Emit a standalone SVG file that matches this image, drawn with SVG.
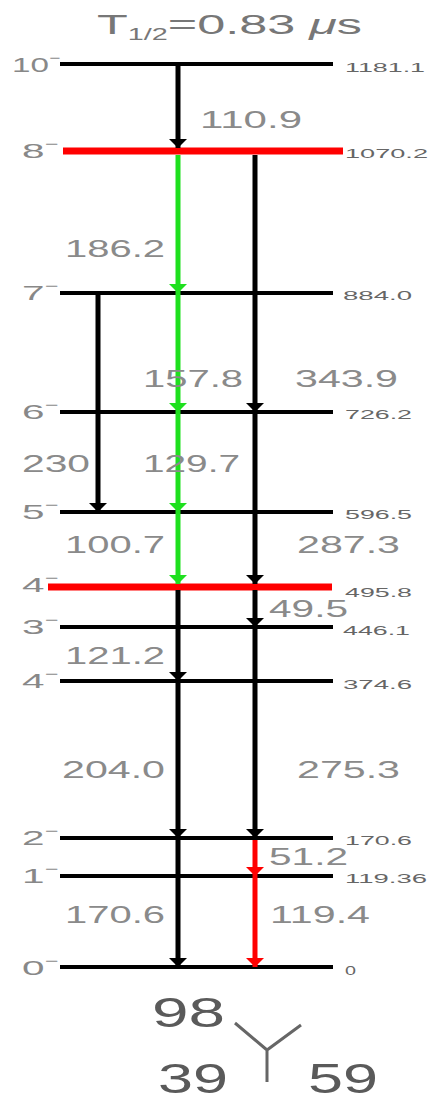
<svg xmlns="http://www.w3.org/2000/svg" width="431" height="1101" viewBox="0 0 431 1101">
<style>
.lv{stroke:#000;stroke-width:4;fill:none}
.lvr{stroke:#f00;stroke-width:7;fill:none}
.jp{font-family:"Liberation Sans",Arial,sans-serif;font-size:21px;fill:#888}
.sup{font-size:12px}
.en{font-family:"Liberation Sans",Arial,sans-serif;font-size:13px;fill:#666}
.tr{font-family:"Liberation Sans",Arial,sans-serif;font-size:24px;fill:#8a8a8a}
.tk{stroke:#000;stroke-width:5;fill:none}
.tg{stroke:#1ee01e;stroke-width:5;fill:none}
.trd{stroke:#f00;stroke-width:5;fill:none}
.big{font-family:"Liberation Sans",Arial,sans-serif;font-size:42px;fill:#5a5a5a}
</style>
<defs>
<marker id="ak" markerUnits="userSpaceOnUse" markerWidth="10" markerHeight="18" refX="9" refY="9" orient="auto"><path d="M0,0 L9,9 L0,18 z" fill="#000"/></marker>
<marker id="ag" markerUnits="userSpaceOnUse" markerWidth="10" markerHeight="18" refX="9" refY="9" orient="auto"><path d="M0,0 L9,9 L0,18 z" fill="#1ee01e"/></marker>
<marker id="ar" markerUnits="userSpaceOnUse" markerWidth="10" markerHeight="18" refX="9" refY="9" orient="auto"><path d="M0,0 L9,9 L0,18 z" fill="#f00"/></marker>
</defs>
<rect width="431" height="1101" fill="#fff"/>

<g id="title">
<text x="97" y="34" font-family="Liberation Sans,Arial,sans-serif" font-size="28" fill="#777" textLength="265" lengthAdjust="spacingAndGlyphs">T<tspan font-size="16" dy="6">1/2</tspan><tspan dy="-6">=0.83 </tspan><tspan font-style="italic">μ</tspan>s</text>
</g>

<g id="levels">
<g id="L1181"><line class="lv" x1="60" y1="64" x2="333" y2="64"/><text class="jp" x="12" y="72" textLength="48" lengthAdjust="spacingAndGlyphs">10<tspan class="sup" dy="-10">−</tspan></text><text class="en" x="345" y="72" textLength="80" lengthAdjust="spacingAndGlyphs">1181.1</text></g>
<g id="L1070"><line class="lvr" x1="63" y1="151" x2="343" y2="151"/><text class="jp" x="22" y="158" textLength="36" lengthAdjust="spacingAndGlyphs">8<tspan class="sup" dy="-10">−</tspan></text><text class="en" x="345" y="158" textLength="83" lengthAdjust="spacingAndGlyphs">1070.2</text></g>
<g id="L884"><line class="lv" x1="60" y1="293" x2="333" y2="293"/><text class="jp" x="22" y="300" textLength="36" lengthAdjust="spacingAndGlyphs">7<tspan class="sup" dy="-10">−</tspan></text><text class="en" x="343" y="300" textLength="69" lengthAdjust="spacingAndGlyphs">884.0</text></g>
<g id="L726"><line class="lv" x1="60" y1="412" x2="333" y2="412"/><text class="jp" x="22" y="419" textLength="36" lengthAdjust="spacingAndGlyphs">6<tspan class="sup" dy="-10">−</tspan></text><text class="en" x="345" y="419" textLength="67" lengthAdjust="spacingAndGlyphs">726.2</text></g>
<g id="L596"><line class="lv" x1="60" y1="512" x2="333" y2="512"/><text class="jp" x="22" y="519" textLength="36" lengthAdjust="spacingAndGlyphs">5<tspan class="sup" dy="-10">−</tspan></text><text class="en" x="345" y="519" textLength="67" lengthAdjust="spacingAndGlyphs">596.5</text></g>
<g id="L495"><line class="lvr" x1="48" y1="587" x2="332" y2="587"/><text class="jp" x="22" y="592" textLength="36" lengthAdjust="spacingAndGlyphs">4<tspan class="sup" dy="-10">−</tspan></text><text class="en" x="345" y="597" textLength="67" lengthAdjust="spacingAndGlyphs">495.8</text></g>
<g id="L446"><line class="lv" x1="60" y1="627" x2="333" y2="627"/><text class="jp" x="22" y="634" textLength="36" lengthAdjust="spacingAndGlyphs">3<tspan class="sup" dy="-10">−</tspan></text><text class="en" x="343" y="635" textLength="67" lengthAdjust="spacingAndGlyphs">446.1</text></g>
<g id="L374"><line class="lv" x1="60" y1="681" x2="333" y2="681"/><text class="jp" x="22" y="688" textLength="36" lengthAdjust="spacingAndGlyphs">4<tspan class="sup" dy="-10">−</tspan></text><text class="en" x="343" y="689" textLength="69" lengthAdjust="spacingAndGlyphs">374.6</text></g>
<g id="L170"><line class="lv" x1="60" y1="838" x2="333" y2="838"/><text class="jp" x="22" y="845" textLength="36" lengthAdjust="spacingAndGlyphs">2<tspan class="sup" dy="-10">−</tspan></text><text class="en" x="345" y="845" textLength="67" lengthAdjust="spacingAndGlyphs">170.6</text></g>
<g id="L119"><line class="lv" x1="60" y1="876" x2="333" y2="876"/><text class="jp" x="22" y="883" textLength="36" lengthAdjust="spacingAndGlyphs">1<tspan class="sup" dy="-10">−</tspan></text><text class="en" x="345" y="883" textLength="82" lengthAdjust="spacingAndGlyphs">119.36</text></g>
<g id="L0"><line class="lv" x1="60" y1="967" x2="333" y2="967"/><text class="jp" x="22" y="975" textLength="36" lengthAdjust="spacingAndGlyphs">0<tspan class="sup" dy="-10">−</tspan></text><text class="en" x="345" y="975" textLength="11" lengthAdjust="spacingAndGlyphs">0</text></g>
</g>

<g id="connectors">
<line class="tk" x1="178" y1="66" x2="178" y2="148" marker-end="url(#ak)"/>
<line class="tg" x1="178" y1="155" x2="178" y2="293" marker-end="url(#ag)"/>
<line class="tg" x1="178" y1="293" x2="178" y2="412" marker-end="url(#ag)"/>
<line class="tg" x1="178" y1="412" x2="178" y2="512" marker-end="url(#ag)"/>
<line class="tg" x1="178" y1="512" x2="178" y2="584" marker-end="url(#ag)"/>
<line class="tk" x1="178" y1="590" x2="178" y2="681" marker-end="url(#ak)"/>
<line class="tk" x1="178" y1="681" x2="178" y2="838" marker-end="url(#ak)"/>
<line class="tk" x1="178" y1="838" x2="178" y2="967" marker-end="url(#ak)"/>
<line class="tk" x1="255" y1="155" x2="255" y2="412" marker-end="url(#ak)"/>
<line class="tk" x1="255" y1="412" x2="255" y2="584" marker-end="url(#ak)"/>
<line class="tk" x1="255" y1="590" x2="255" y2="627" marker-end="url(#ak)"/>
<line class="tk" x1="255" y1="627" x2="255" y2="838" marker-end="url(#ak)"/>
<line class="trd" x1="255" y1="840" x2="255" y2="876" marker-end="url(#ar)"/>
<line class="trd" x1="255" y1="876" x2="255" y2="967" marker-end="url(#ar)"/>
<line class="tk" x1="98" y1="293" x2="98" y2="512" marker-end="url(#ak)"/>
</g>

<g id="transition-labels">
<text class="tr" x="200" y="128" textLength="102" lengthAdjust="spacingAndGlyphs">110.9</text>
<text class="tr" x="65" y="257" textLength="100" lengthAdjust="spacingAndGlyphs">186.2</text>
<text class="tr" x="143" y="387" textLength="100" lengthAdjust="spacingAndGlyphs">157.8</text>
<text class="tr" x="295" y="387" textLength="103" lengthAdjust="spacingAndGlyphs">343.9</text>
<text class="tr" x="22" y="472" textLength="68" lengthAdjust="spacingAndGlyphs">230</text>
<text class="tr" x="143" y="472" textLength="97" lengthAdjust="spacingAndGlyphs">129.7</text>
<text class="tr" x="65" y="553" textLength="100" lengthAdjust="spacingAndGlyphs">100.7</text>
<text class="tr" x="297" y="553" textLength="103" lengthAdjust="spacingAndGlyphs">287.3</text>
<text class="tr" x="269" y="617" textLength="79" lengthAdjust="spacingAndGlyphs">49.5</text>
<text class="tr" x="65" y="664" textLength="100" lengthAdjust="spacingAndGlyphs">121.2</text>
<text class="tr" x="62" y="778" textLength="103" lengthAdjust="spacingAndGlyphs">204.0</text>
<text class="tr" x="297" y="778" textLength="103" lengthAdjust="spacingAndGlyphs">275.3</text>
<text class="tr" x="269" y="865" textLength="79" lengthAdjust="spacingAndGlyphs">51.2</text>
<text class="tr" x="65" y="923" textLength="100" lengthAdjust="spacingAndGlyphs">170.6</text>
<text class="tr" x="270" y="923" textLength="100" lengthAdjust="spacingAndGlyphs">119.4</text>
</g>

<g id="nucleus">
<text class="big" x="152" y="1027" textLength="73" lengthAdjust="spacingAndGlyphs">98</text>
<text class="big" x="158" y="1093" textLength="70" lengthAdjust="spacingAndGlyphs">39</text>
<text class="big" x="308" y="1093" textLength="70" lengthAdjust="spacingAndGlyphs">59</text>
<path d="M235,1023 L267,1050 L301,1025 M267,1050 L267,1082" stroke="#666" stroke-width="3" fill="none"/>
</g>
</svg>
